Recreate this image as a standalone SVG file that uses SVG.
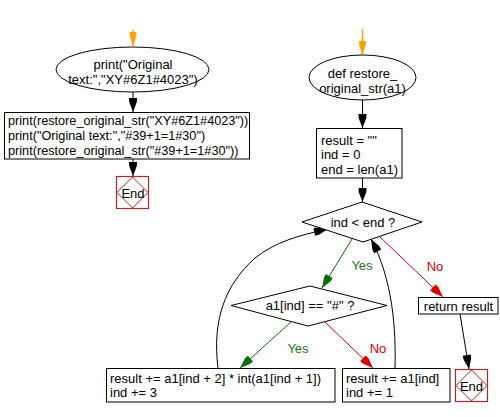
<svg xmlns="http://www.w3.org/2000/svg" width="500" height="417" viewBox="0 0 500 417">
<defs>
<style>
text{font-family:"Liberation Sans",Arial,sans-serif;font-size:13px;fill:#000}
.c{text-anchor:middle}
.sm{font-size:12.7px}
.shape{fill:#fff;stroke:#000;stroke-width:1}
.end{fill:#fff;stroke:#a52a2a;stroke-width:1.2}
.endd{fill:none;stroke:#b22222;stroke-width:1}
.k{fill:none;stroke:#000;stroke-width:1}
.g{fill:none;stroke:#0a6e0a;stroke-width:1}
.r{fill:none;stroke:#dd0000;stroke-width:1}
.o{fill:none;stroke:#ffa500;stroke-width:1.5}
.gt{fill:#1a7a1a}
.rt{fill:#d40000}
</style>
<marker id="ak" markerUnits="userSpaceOnUse" markerWidth="14" markerHeight="8" refX="14" refY="4" orient="auto" overflow="visible"><path d="M0,0 L4,0.2 L14,4 L4,7.8 L0,8 z" fill="#000"/></marker>
<marker id="ag" markerUnits="userSpaceOnUse" markerWidth="14" markerHeight="8" refX="14" refY="4" orient="auto" overflow="visible"><path d="M0,0 L4,0.2 L14,4 L4,7.8 L0,8 z" fill="#0a6e0a"/></marker>
<marker id="ar" markerUnits="userSpaceOnUse" markerWidth="14" markerHeight="8" refX="14" refY="4" orient="auto" overflow="visible"><path d="M0,0 L4,0.2 L14,4 L4,7.8 L0,8 z" fill="#dd0000"/></marker>
<marker id="ao" markerUnits="userSpaceOnUse" markerWidth="14" markerHeight="7" refX="14" refY="3.5" orient="auto" overflow="visible"><path d="M0,0 L4,0.2 L14,3.5 L4,6.8 L0,7 z" fill="#ffa500"/></marker>
</defs>
<rect width="500" height="417" fill="#fff"/>

<g id="connectors">
<line class="o" x1="133" y1="30" x2="133" y2="46" marker-end="url(#ao)"/>
<line class="o" x1="362.5" y1="29" x2="362.5" y2="55" marker-end="url(#ao)"/>
<line class="k" x1="133" y1="92" x2="133" y2="112" marker-end="url(#ak)"/>
<line class="k" x1="133" y1="159" x2="133" y2="176" marker-end="url(#ak)"/>
<line class="k" x1="362.5" y1="100" x2="362.5" y2="128" marker-end="url(#ak)"/>
<line class="k" x1="362.5" y1="178" x2="362.5" y2="202" marker-end="url(#ak)"/>
<line class="g" x1="352" y1="239" x2="322" y2="288" marker-end="url(#ag)"/>
<line class="r" x1="380" y1="237" x2="443" y2="297" marker-end="url(#ar)"/>
<line class="k" x1="460" y1="314" x2="469" y2="369" marker-end="url(#ak)"/>
<line class="g" x1="291" y1="322" x2="240" y2="368" marker-end="url(#ag)"/>
<line class="r" x1="325" y1="322" x2="373" y2="368" marker-end="url(#ar)"/>
<path class="k" d="M395,368 C396,330 393,280 371,239" marker-end="url(#ak)"/>
<path class="k" d="M218,368 C212,320 225,285 255,258 C275,242 300,235 328,229" marker-end="url(#ak)"/>
<text class="c gt" x="362" y="270">Yes</text>
<text class="c rt" x="435" y="271">No</text>
<text class="c gt" x="298" y="353">Yes</text>
<text class="c rt" x="378" y="353">No</text>
</g>

<g id="print_start">
<ellipse class="shape" cx="132.5" cy="69.5" rx="76.5" ry="22.5"/>
<text class="c" x="133" y="69">print("Original</text>
<text class="c" x="133" y="84">text:","XY#6Z1#4023")</text>
</g>

<g id="print_calls">
<rect class="shape" x="4.5" y="112.5" width="245" height="46.5"/>
<text class="sm" x="8" y="125">print(restore_original_str("XY#6Z1#4023"))</text>
<text class="sm" x="8" y="140">print("Original text:","#39+1=1#30")</text>
<text class="sm" x="8" y="155">print(restore_original_str("#39+1=1#30"))</text>
</g>

<g id="end_left">
<rect class="end" x="116.5" y="176.5" width="32" height="32"/>
<polygon class="endd" points="132.5,177 148,192.5 132.5,208 117,192.5"/>
<text class="c" x="133" y="197.5">End</text>
</g>

<g id="def_start">
<ellipse class="shape" cx="362.5" cy="77.5" rx="53.5" ry="22.5"/>
<text class="c" x="362.5" y="78">def restore_</text>
<text class="c" x="362.5" y="93">original_str(a1)</text>
</g>

<g id="init">
<rect class="shape" x="316.5" y="128.5" width="85.5" height="49.5"/>
<text x="321" y="144.5">result = ""</text>
<text x="321" y="159">ind = 0</text>
<text x="321" y="173.5">end = len(a1)</text>
</g>

<g id="cond_loop">
<polygon class="shape" points="362,202 422,222 363,242 302,222"/>
<text class="c" x="363" y="227">ind &lt; end ?</text>
</g>

<g id="cond_hash">
<polygon class="shape" points="310,286 387,305.5 308,326 231,305.5"/>
<text class="c" x="310" y="310">a1[ind] == "#" ?</text>
</g>

<g id="return">
<rect class="shape" x="418.5" y="297.5" width="79.5" height="16.5"/>
<text class="c" x="458.5" y="311">return result</text>
</g>

<g id="end_right">
<rect class="end" x="455.5" y="369.5" width="32" height="32"/>
<polygon class="endd" points="471.5,370 487,385.5 471.5,401 456,385.5"/>
<text class="c" x="471.5" y="390.5">End</text>
</g>

<g id="hash_branch">
<rect class="shape" x="106.5" y="368.5" width="228.5" height="33.5"/>
<text x="110" y="383">result += a1[ind + 2] * int(a1[ind + 1])</text>
<text x="110" y="397">ind += 3</text>
</g>

<g id="plain_branch">
<rect class="shape" x="342.5" y="368.5" width="107.5" height="33.5"/>
<text x="346" y="383">result += a1[ind]</text>
<text x="346" y="397">ind += 1</text>
</g>
</svg>
